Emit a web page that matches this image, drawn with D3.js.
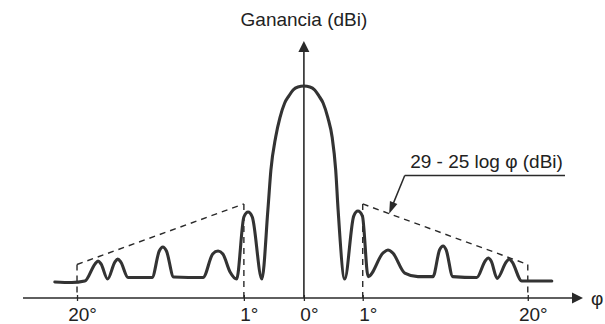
<!DOCTYPE html>
<html>
<head>
<meta charset="utf-8">
<script src="https://cdn.jsdelivr.net/npm/d3@7"></script>
<style>
  html, body { margin: 0; padding: 0; background: #fff; }
  svg { display: block; }
  text { font-family: "Liberation Sans", Arial, sans-serif; fill: #222; }
</style>
</head>
<body>
<svg id="chart" width="605" height="324"></svg>
<script>
// Symbolic angle axis: 0° at the centre, 1° and 20° on each side (not to scale)
const tickPos    = [-3.78, -1.0, 0, 0.98, 3.73];
const tickLabels = ["20°", "1°", "0°", "1°", "20°"];

// Radiation pattern: position on the angle axis and gain (dBi)
const patternPos = [
  -4.15, -3.87, -3.65, -3.48, -3.43, -3.38, -3.27, -3.15, -3.10, -3.05,
  -2.93, -2.53, -2.41, -2.35, -2.29, -2.17, -1.68, -1.52, -1.43, -1.35,
  -1.23, -1.12, -1.00, -0.93, -0.86, -0.70, -0.60, -0.55, -0.47, -0.40,
  -0.32, -0.25, -0.18, -0.10,  0.00,  0.10,  0.18,  0.25,  0.32,  0.40,
   0.47,  0.53,  0.57,  0.68,  0.83,  0.90,  0.975, 1.07,  1.32,  1.40,
   1.48,  1.68,  1.90,  2.15,  2.26,  2.32,  2.37,  2.48,  2.88,  3.02,
   3.07,  3.12,  3.22,  3.37,  3.42,  3.47,  3.63,  4.13
];
const patternGain = [
  -12.9, -13.2, -12.4,  -3.2,  -1.6,  -3.2, -11.3,  -2.2,  -0.6,  -2.2,
  -10.5, -10.5,   3.7,   5.9,   3.7, -10.2, -10.5,   2.1,   3.7,   2.1,
   -7.5, -11.3,  22.0,  24.7,  22.0, -11.3,  25.8,  47.2,  65.0,  75.2,
   83.2,  87.0,  90.2,  91.8,  92.3,  91.8,  90.2,  87.0,  83.2,  75.2,
   65.0,  47.2,  25.8, -11.3,  22.5,  25.2,  22.5, -10.0,   2.7,   4.3,
    2.7,  -8.1, -10.0, -10.0,   4.3,   6.4,   4.3, -10.0, -10.5,  -1.6,
    0.0,  -1.6, -11.0,  -2.2,  -0.6,  -2.2, -12.4, -12.4
];

// Side-lobe envelope 29 - 25 log φ, at 20° and 1° on each side
const envLeftPos  = [-3.78, -1.0];
const envRightPos = [0.98, 3.73];
const envLeftGain  = [-3.5, 29];
const envRightGain = [29, -3.5];

const svg = d3.select("#chart");
const ink = "#2a2a2a";

const x = d3.scaleLinear().domain([-4.68, 4.65]).range([23, 583]);
const y = d3.scaleLinear().domain([-21.5, 116.5]).range([298, 41]);
const g0 = y.domain()[0];

// Dashed envelope lines and vertical guides down to the axis
function drawEnvelope(pos, gain) {
  const pts = pos.map((p, i) => [x(p), y(gain[i])]);
  svg.append("path")
    .attr("d", d3.line()(pts))
    .attr("fill", "none").attr("stroke", ink)
    .attr("stroke-width", 1.4).attr("stroke-dasharray", "6,5");
  pos.forEach((p, i) => {
    svg.append("line")
      .attr("x1", x(p)).attr("x2", x(p))
      .attr("y1", y(gain[i])).attr("y2", y(g0))
      .attr("stroke", ink).attr("stroke-width", 1.4)
      .attr("stroke-dasharray", "6,5");
  });
}
drawEnvelope(envLeftPos, envLeftGain);
drawEnvelope(envRightPos, envRightGain);

// Horizontal angle axis
const xAxis = d3.axisBottom(x)
  .tickValues(tickPos)
  .tickFormat((d, i) => tickLabels[i])
  .tickSizeInner(3).tickSizeOuter(0).tickPadding(7);
const ax = svg.append("g").attr("transform", `translate(0,${y(g0)})`).call(xAxis);
ax.select(".domain").remove();
ax.selectAll(".tick line").attr("stroke", ink).attr("stroke-width", 1.3).attr("y1", -3);
ax.selectAll(".tick text")
  .attr("font-size", 19).attr("font-family", "Liberation Sans, Arial, sans-serif")
  .attr("fill", "#222").attr("dx", 5).attr("dy", "0.71em");

svg.append("line")
  .attr("x1", x.range()[0]).attr("x2", x.range()[1] - 10)
  .attr("y1", y(g0)).attr("y2", y(g0))
  .attr("stroke", ink).attr("stroke-width", 1.6);
svg.append("path")
  .attr("d", `M${x.range()[1]},${y(g0)} l-11,-5.5 l0,11 Z`)
  .attr("fill", ink);

// Vertical gain axis
svg.append("line")
  .attr("x1", x(0)).attr("x2", x(0))
  .attr("y1", y(g0)).attr("y2", y(y.domain()[1]) + 10)
  .attr("stroke", ink).attr("stroke-width", 1.6);
svg.append("path")
  .attr("d", `M${x(0)},${y(y.domain()[1])} l-5.5,11 l11,0 Z`)
  .attr("fill", ink);

svg.append("text")
  .attr("x", x(0)).attr("y", 26)
  .attr("text-anchor", "middle").attr("font-size", 19)
  .text("Ganancia (dBi)");

svg.append("text")
  .attr("x", 591).attr("y", 305)
  .attr("font-size", 19)
  .text("φ");

// Radiation pattern curve
const pattern = patternPos.map((p, i) => [p, patternGain[i]]);
svg.append("path")
  .datum(pattern)
  .attr("d", d3.line().x(d => x(d[0])).y(d => y(d[1])).curve(d3.curveMonotoneX))
  .attr("fill", "none").attr("stroke", "#333")
  .attr("stroke-width", 3.1)
  .attr("stroke-linejoin", "round").attr("stroke-linecap", "round");

// Envelope label with leader arrow
const noteAt = 1.42;
const noteGain = d3.interpolateNumber(envRightGain[0], envRightGain[1])(
  (noteAt - envRightPos[0]) / (envRightPos[1] - envRightPos[0]));
const tip = [x(noteAt), y(noteGain)];
const start = [x(1.68), y(44.3)];
svg.append("text")
  .attr("x", x(1.77)).attr("y", y(48.3))
  .attr("font-size", 19)
  .text("29 - 25 log φ (dBi)");
svg.append("line")
  .attr("x1", start[0]).attr("x2", x(4.35))
  .attr("y1", start[1]).attr("y2", start[1])
  .attr("stroke", ink).attr("stroke-width", 1.5);
const dx = tip[0] - start[0], dy = tip[1] - start[1];
const len = Math.hypot(dx, dy), ux = dx / len, uy = dy / len;
const headLen = 12, headW = 4;
const base = [tip[0] - ux * headLen, tip[1] - uy * headLen];
svg.append("line")
  .attr("x1", start[0]).attr("y1", start[1])
  .attr("x2", base[0] + ux * 2).attr("y2", base[1] + uy * 2)
  .attr("stroke", ink).attr("stroke-width", 1.5);
svg.append("path")
  .attr("d", `M${tip[0]},${tip[1]} L${base[0] - uy * headW},${base[1] + ux * headW} L${base[0] + uy * headW},${base[1] - ux * headW} Z`)
  .attr("fill", ink);
</script>
</body>
</html>
